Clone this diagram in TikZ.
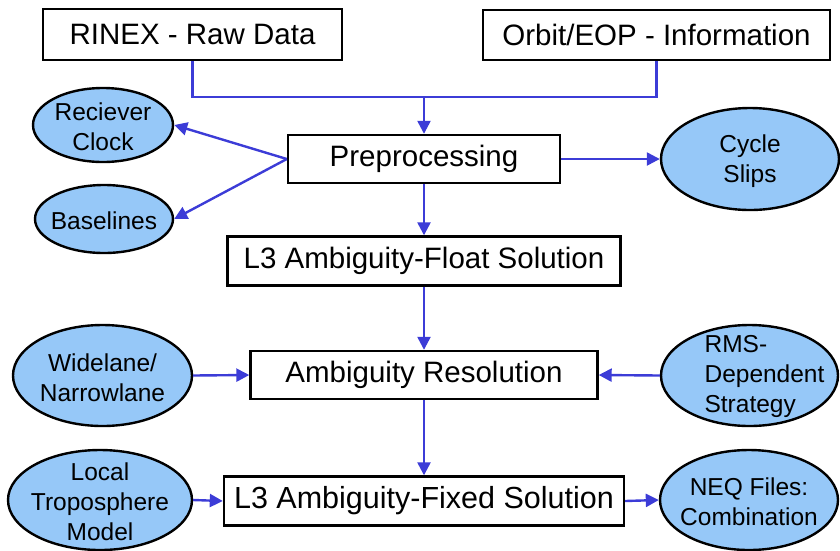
\documentclass[tikz,border=0pt]{standalone}
\usepackage{fontspec}
\setmainfont{Liberation Sans}
\usetikzlibrary{shapes.geometric,arrows.meta}
\definecolor{lnblue}{RGB}{60,60,215}
\definecolor{elfill}{RGB}{150,200,248}
\begin{document}
\begin{tikzpicture}[x=1pt,y=-1pt,
 box/.style={draw=black,line width=2.4pt,rectangle,inner sep=0pt,font=\fontsize{29.5}{34}\selectfont},
 lbl/.style={align=center,inner sep=0pt,yshift=-2pt,font=\fontsize{24.5}{30}\selectfont},
 oval/.style={draw=black,line width=2.4pt,ellipse,fill=elfill,inner sep=0pt,label={[lbl]center:#1}},
 conn/.style={draw=lnblue,line width=2.4pt},
 arr/.style={conn,-{Triangle[length=13pt,width=13pt]}}]
\useasboundingbox (0,0) rectangle (840,550);

% boxes
\node[box,minimum width=299pt,minimum height=51pt] (rinex) at (192.5,34.5) {RINEX - Raw Data};
\node[box,minimum width=347pt,minimum height=50pt] (orbit) at (656.5,35) {Orbit/EOP - Information};
\node[box,minimum width=272pt,minimum height=48pt] (pre) at (424,159) {Preprocessing};
\node[box,minimum width=393pt,minimum height=49pt] (float) at (424,261) {L3 Ambiguity-Float Solution};
\node[box,minimum width=347pt,minimum height=48pt] (ar) at (424,375) {Ambiguity Resolution};
\node[box,minimum width=400pt,minimum height=49pt,font=\fontsize{30.5}{35}\selectfont] (fixed) at (424,501) {L3 Ambiguity-Fixed Solution};

% ellipses
\node[oval={Reciever\\Clock},minimum width=140pt,minimum height=74pt] (rc) at (103,125) {};
\node[oval={Baselines},minimum width=138pt,minimum height=68pt] (bl) at (104,219) {};
\node[oval={Cycle\\Slips},minimum width=178pt,minimum height=102pt] (cs) at (750,159) {};
\node[oval={Widelane/\\Narrowlane},minimum width=179pt,minimum height=101pt] (wn) at (102.5,375.5) {};
\node[oval={},minimum width=177pt,minimum height=101pt,
  label={[lbl,align=left,xshift=15pt,yshift=1pt]center:RMS-\\Dependent\\Strategy}] (rms) at (749.5,375.5) {};
\node[oval={Local\\Troposphere\\Model},minimum width=184pt,minimum height=100pt] (lt) at (100,500) {};
\node[oval={NEQ Files:\\Combination},minimum width=178pt,minimum height=100pt] (neq) at (749,500) {};

% connectors
\coordinate (j) at (424,97);
\draw[conn] (rinex.south) |- (j) -| (orbit.south);
\draw[arr] (j) -- (pre.north);
\draw[arr] (pre.west) -- (rc.east);
\draw[arr] (pre.west) -- (bl.east);
\draw[arr] (pre.east) -- (cs.west);
\draw[arr] (pre.south) -- (float.north);
\draw[arr] (float.south) -- (ar.north);
\draw[arr] (wn.east) -- (ar.west);
\draw[arr] (rms.west) -- (ar.east);
\draw[arr] (ar.south) -- (fixed.north);
\draw[arr] (lt.east) -- (fixed.west);
\draw[arr] (fixed.east) -- (neq.west);
\end{tikzpicture}
\end{document}
